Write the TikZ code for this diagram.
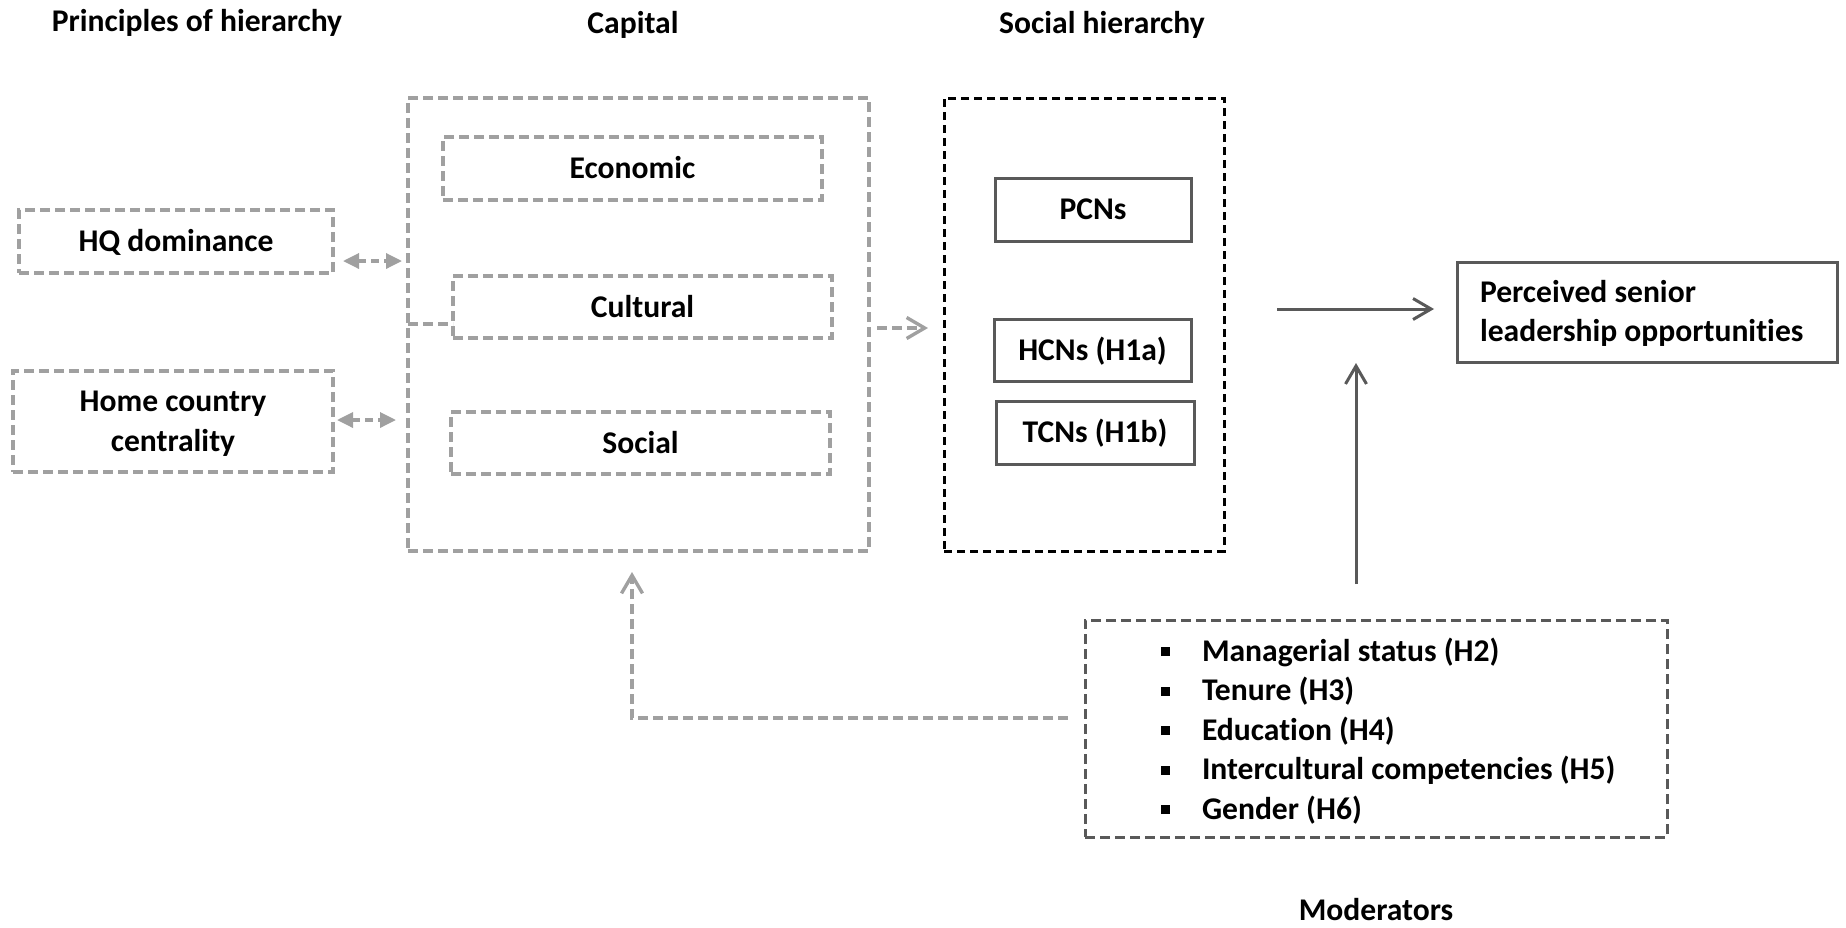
\documentclass[tikz,border=0pt]{standalone}
\usepackage{fontspec}
\setmainfont{Carlito}[Ligatures=NoCommon]
\usetikzlibrary{arrows.meta,calc}
\definecolor{lg}{HTML}{A0A0A0}
\definecolor{dg}{HTML}{595959}
\newcommand{\sqbul}{\makebox[20.5pt][l]{\raisebox{2.4pt}{\rule{4.5pt}{4.5pt}}}}
\begin{document}
\begin{tikzpicture}[x=0.5pt,y=-0.5pt,
  every node/.style={font=\fontsize{15.8}{19.5}\selectfont\bfseries, inner sep=0pt, outer sep=0pt},
  gbox/.style={draw=lg, line width=1.7pt, dash pattern=on 5pt off 2.5pt, text height=10pt, text depth=0pt},
  sbox/.style={draw=dg, line width=1.5pt, text height=10pt, text depth=0pt},
  gline/.style={draw=lg, line width=1.7pt, dash pattern=on 5pt off 2.5pt},
  darr/.style={draw=lg, line width=1.7pt, dash pattern=on 4pt off 2.5pt, {Triangle[length=8pt,width=7.5pt]}-{Triangle[length=8pt,width=7.5pt]}},
  garr/.style={draw=lg, line width=1.7pt, dash pattern=on 5pt off 2.5pt, -{Straight Barb[length=9pt,width=10.5pt]}},
  sarr/.style={draw=dg, line width=1.5pt, -{Straight Barb[length=9pt,width=10.5pt]}},
]
\useasboundingbox (0,0) rectangle (1846,927);

% titles
\node[anchor=base] (t1) at (197,31) {Principles of hierarchy};
\node[anchor=base] (t2) at (633,33.5) {Capital};
\node[anchor=base] (t3) at (1102,33.5) {Social hierarchy};
\node[anchor=base] (t4) at (1376,920) {Moderators};

% principles
\node[gbox, minimum width=157pt, minimum height=31.5pt] (hq) at (176,241.5) {HQ dominance};
\node[gbox, minimum width=160pt, minimum height=50.5pt,
      font=\fontsize{15.8}{20}\selectfont\bfseries, text depth=20pt] (home) at (173,421.5)
  {\begin{tabular}[t]{@{}c@{}}Home country\\centrality\end{tabular}};

% capital
\node[gbox, minimum width=230.5pt, minimum height=226.5pt] (cap) at (638.5,324.5) {};
\node[gbox, minimum width=189.5pt, minimum height=31.5pt] (eco) at (632.5,168.5) {Economic};
\node[gbox, minimum width=189.5pt, minimum height=31pt] (cul) at (642.5,307) {Cultural};
\node[gbox, minimum width=189.5pt, minimum height=31pt] (soc) at (640.5,443) {Social};

% social hierarchy
\node[draw=black, line width=1.5pt, dash pattern=on 4pt off 2.5pt, minimum width=140pt, minimum height=226.5pt] (sh) at (1084,324.5) {};
\node[sbox, minimum width=98pt, minimum height=31.5pt] (pcn) at (1093,209.5) {PCNs};
\node[sbox, minimum width=98.5pt, minimum height=31pt] (hcn) at (1092.5,350) {HCNs (H1a)};
\node[sbox, minimum width=99pt, minimum height=31.5pt] (tcn) at (1095,432.5) {TCNs (H1b)};

% outcome
\node[sbox, minimum width=190pt, minimum height=50pt, inner xsep=11.5pt, text depth=19.5pt] (per) at (1647,312)
  {\makebox[167pt][l]{\begin{tabular}[t]{@{}l@{}}Perceived senior\\leadership opportunities\end{tabular}}};

% moderators
\node[draw=dg, line width=1.5pt, dash pattern=on 5pt off 2.5pt, minimum width=291pt, minimum height=108.5pt] (mod) at (1376,728.5) {};
\node[anchor=west, font=\fontsize{15.8}{19.75}\selectfont\bfseries,
      text height=10pt, text depth=79pt] (modlist) at (1161,730)
  {\begin{tabular}[t]{@{}l@{}}
   \sqbul Managerial status (H2)\\
   \sqbul Tenure (H3)\\
   \sqbul Education (H4)\\
   \sqbul Intercultural competencies (H5)\\
   \sqbul Gender (H6)
   \end{tabular}};

% connectors
\draw[darr] ($(hq.east)+(10,19.5)$) -- ($(cap.west|-hq.east)+(-6,19.5)$);
\draw[darr] ($(home.east)+(4,-1.5)$) -- ($(cap.west|-home.east)+(-12,-1.5)$);
\draw[gline] ($(cap.west|-cul.west)+(0,17)$) -- ($(cul.west)+(0,17)$);
\draw[garr] ($(cap.east)+(8,3.5)$) -- ($(sh.west)+(-16,3.5)$);
\draw[garr] ($(mod.west)+(-17,-10.5)$) -| ($(cap.south)+(-6.5,21)$);
\draw[sarr] ($(per.west)+(-180,-3)$) -- ($(per.west)+(-23,-3)$);
\draw[sarr] ($(mod.north)+(-20,-36)$) -- ($(mod.north|-per.south)+(-20,1)$);
\end{tikzpicture}
\end{document}
